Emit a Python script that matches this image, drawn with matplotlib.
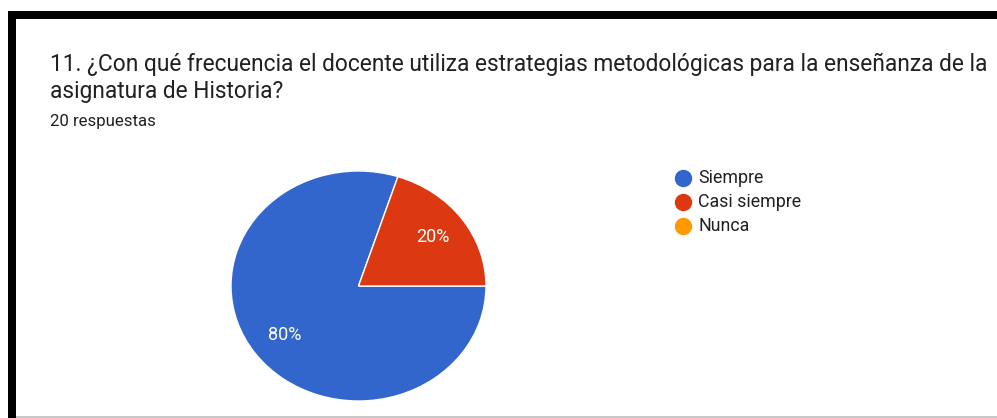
import matplotlib.pyplot as plt
from matplotlib.patches import Rectangle
from matplotlib.lines import Line2D

plt.rcParams['font.family'] = ['Roboto', 'DejaVu Sans']

labels = ['Siempre', 'Casi siempre', 'Nunca']
values = [80, 20, 0]
colors = ['#3366cc', '#dc3912', '#ff9900']
title_lines = ['11. ¿Con qué frecuencia el docente utiliza estrategias metodológicas para la enseñanza de la',
               'asignatura de Historia?']
subtitle = '20 respuestas'

W, H = 997, 418
fig = plt.figure(figsize=(W / 100, H / 100), dpi=100)
fig.patch.set_facecolor('white')

def px(x, y):
    return x / W, 1 - y / H

# frame (screenshot border)
fig.patches.append(Rectangle(px(8, 19), (W - 8) / W, 8 / H, transform=fig.transFigure,
                             facecolor='black', edgecolor='none'))
fig.patches.append(Rectangle(px(8, H), 8 / W, (H - 11) / H, transform=fig.transFigure,
                             facecolor='black', edgecolor='none'))
fig.patches.append(Rectangle(px(16, H), (W - 16) / W, 2 / H, transform=fig.transFigure,
                             facecolor='#c8c8c8', edgecolor='none'))

for i, line in enumerate(title_lines):
    fig.text(*px(50, 71 + 27 * i), line, fontsize=16.35, color='#202124', va='baseline', ha='left')
fig.text(*px(50, 126), subtitle, fontsize=12.1, color='#202124', va='baseline', ha='left')

# pie is slightly stretched horizontally in the screenshot
ax = fig.add_axes([231 / W, (H - 401) / H, 255 / W, 230 / H])
nz = [(v, c) for v, c in zip(values, colors) if v > 0]
ax.pie([v for v, c in nz], colors=[c for v, c in nz], startangle=72, counterclock=True,
       autopct='%1.0f%%', pctdistance=0.72, radius=1,
       wedgeprops=dict(edgecolor='white', linewidth=1),
       textprops=dict(color='white', fontsize=13))
ax.set_xlim(-1.0, 1.0)
ax.set_ylim(-1.0, 1.0)
ax.set_aspect('auto')
ax.axis('off')

for i, (lab, col) in enumerate(zip(labels, colors)):
    y = 178 + i * 24
    fig.add_artist(Line2D([683 / W], [1 - y / H], marker='o', markersize=11.5, color=col,
                          linestyle='none', transform=fig.transFigure))
    fig.text(*px(698, y), lab, fontsize=12.8, color='#202124', va='center', ha='left')

fig.savefig('out.png', dpi=100)
